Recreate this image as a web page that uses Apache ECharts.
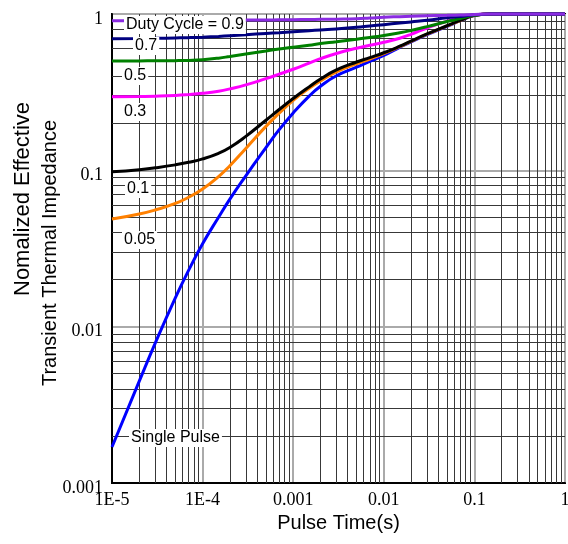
<!DOCTYPE html>
<html>
<head>
<meta charset="utf-8">
<script src="https://cdn.jsdelivr.net/npm/echarts@6/dist/echarts.min.js"></script>
<style>html,body{margin:0;padding:0;background:#fff;}#c{width:568px;height:544px;}</style>
</head>
<body>
<div id="c"></div>
<script>
// ---- data ----
const xTickLabels = ['1E-5', '1E-4', '0.001', '0.01', '0.1', '1'];
const yTickLabels = ['0.001', '0.01', '0.1', '1'];

// pulse times (s) at which the curves were read
const pulseTimes = [1e-5, 2e-5, 3e-5, 5e-5, 7e-5, 1e-4, 1.5e-4, 2e-4, 3e-4, 5e-4, 7e-4, 1e-3, 1.5e-3, 2e-3, 3e-3, 5e-3, 7e-3, 1e-2, 1.5e-2, 2e-2, 3e-2, 5e-2, 7e-2, 0.1, 0.15, 0.2, 0.3, 0.5, 0.7, 1];

const singlePulse = [0.0017, 0.00448, 0.00785, 0.0153, 0.0229, 0.0339, 0.0501, 0.0655, 0.0923, 0.1396, 0.182, 0.233, 0.2985, 0.345, 0.403, 0.457, 0.498, 0.543, 0.612, 0.664, 0.738, 0.834, 0.906, 0.978, 1, 1, 1, 1, 1, 1];
const duty005 = [0.0488, 0.0526, 0.0558, 0.0614, 0.0673, 0.076, 0.0912, 0.107, 0.138, 0.191, 0.232, 0.2805, 0.335, 0.3736, 0.427, 0.480, 0.515, 0.558, 0.618, 0.668, 0.743, 0.839, 0.909, 0.979, 1, 1, 1, 1, 1, 1];
const duty01 = [0.098, 0.101, 0.1038, 0.1084, 0.1125, 0.1183, 0.1285, 0.140, 0.165, 0.209, 0.245, 0.288, 0.342, 0.384, 0.4385, 0.493, 0.526, 0.565, 0.622, 0.671, 0.745, 0.841, 0.910, 0.98, 1, 1, 1, 1, 1, 1];
const duty03 = [0.296, 0.297, 0.298, 0.301, 0.305, 0.311, 0.321, 0.332, 0.352, 0.386, 0.412, 0.443, 0.485, 0.518, 0.559, 0.604, 0.631, 0.659, 0.700, 0.741, 0.814, 0.901, 0.951, 0.99, 1, 1, 1, 1, 1, 1];
const duty05 = [0.500, 0.501, 0.502, 0.503, 0.505, 0.510, 0.522, 0.535, 0.555, 0.580, 0.598, 0.613, 0.632, 0.647, 0.665, 0.69, 0.708, 0.728, 0.758, 0.785, 0.83, 0.895, 0.935, 0.98, 1, 1, 1, 1, 1, 1];
const duty07 = [0.695, 0.697, 0.699, 0.703, 0.706, 0.711, 0.719, 0.726, 0.737, 0.751, 0.76, 0.77, 0.782, 0.791, 0.803, 0.822, 0.838, 0.855, 0.875, 0.89, 0.912, 0.945, 0.965, 0.988, 1, 1, 1, 1, 1, 1];
const duty09 = [0.906, 0.907, 0.907, 0.908, 0.909, 0.91, 0.911, 0.912, 0.914, 0.916, 0.918, 0.92, 0.922, 0.924, 0.927, 0.933, 0.942, 0.953, 0.962, 0.968, 0.975, 0.981, 0.986, 0.994, 1, 1, 1, 1, 1, 1];

const curveLabels = ['Duty Cycle = 0.9', '0.7', '0.5', '0.3', '0.1', '0.05', 'Single Pulse'];
const xName = 'Pulse Time(s)';
const yNameLines = ['Nomalized Effective', 'Transient Thermal Impedance'];

// ---- build ----
const X_MIN = 1e-5, X_MAX = 1, Y_MIN = 0.001, Y_MAX = 1;
const xDecades = [-5, -4, -3, -2, -1];
const yDecades = [-3, -2, -1];
const minorLines = [];
xDecades.forEach(d => { for (let k = 2; k <= 9; k++) { const v = k * Math.pow(10, d); minorLines.push({ coords: [[v, Y_MIN], [v, Y_MAX]] }); } });
yDecades.forEach(d => { for (let k = 2; k <= 9; k++) { const v = k * Math.pow(10, d); minorLines.push({ coords: [[X_MIN, v], [X_MAX, v]] }); } });

const curves = [
  { y: singlePulse, color: '#0000ff' },
  { y: duty005, color: '#ff8000' },
  { y: duty01, color: '#000000' },
  { y: duty03, color: '#ff00ff' },
  { y: duty05, color: '#008000' },
  { y: duty07, color: '#000080' },
  { y: duty09, color: '#8a2be2' }
];

const series = [{
  type: 'lines', coordinateSystem: 'cartesian2d', z: 1, silent: true, polyline: false,
  lineStyle: { color: '#383838', width: 1, opacity: 1 },
  data: minorLines
}];
curves.forEach(c => series.push({
  type: 'line', data: pulseTimes.map((t, i) => [t, c.y[i]]), showSymbol: false, symbol: 'none',
  smooth: 0.5, clip: false, z: 3,
  lineStyle: { color: c.color, width: 3 }, silent: true
}));

const labelPos = [[124, 26], [133, 47], [122, 77], [122, 113], [125, 190], [122, 241], [129, 439]];
const graphics = curveLabels.map((t, i) => ({
  type: 'text', left: labelPos[i][0], top: labelPos[i][1] - 10, z: 100,
  style: { text: t, font: '16px "Liberation Sans", Arial, sans-serif', fill: '#000',
    backgroundColor: '#fff', padding: [1, 2, 1, 2] }
}));
// rotated y-axis title, two lines
graphics.push({ type: 'text', x: 23, y: 199, rotation: Math.PI / 2, z: 100,
  style: { text: yNameLines[0], font: '22px "Liberation Sans", Arial, sans-serif', fill: '#000', align: 'center', verticalAlign: 'middle' } });
graphics.push({ type: 'text', x: 50, y: 253, rotation: Math.PI / 2, z: 100,
  style: { text: yNameLines[1], font: '20px "Liberation Sans", Arial, sans-serif', fill: '#000', align: 'center', verticalAlign: 'middle' } });

const chart = echarts.init(document.getElementById('c'), null, { renderer: 'canvas' });
chart.setOption({
  animation: false,
  backgroundColor: '#fff',
  grid: { left: 112, right: 3, top: 14, bottom: 61, outerBoundsMode: 'none', containLabel: false,
    show: true, borderColor: '#000', borderWidth: 2, backgroundColor: 'transparent' },
  xAxis: {
    type: 'log', logBase: 10, min: X_MIN, max: X_MAX,
    name: xName, nameLocation: 'middle', nameGap: 27,
    nameTextStyle: { fontFamily: '"Liberation Sans", Arial, sans-serif', fontSize: 20, color: '#000' },
    axisLine: { show: true, lineStyle: { color: '#000', width: 2 } },
    axisTick: { show: false },
    axisLabel: { margin: 8, color: '#000', fontFamily: '"Liberation Serif", serif', fontSize: 18,
      formatter: v => xTickLabels[Math.round(Math.log10(v)) + 5] },
    splitLine: { show: true, lineStyle: { color: '#aaaaaa', width: 2 } }
  },
  yAxis: {
    type: 'log', logBase: 10, min: Y_MIN, max: Y_MAX,
    axisLine: { show: true, lineStyle: { color: '#000', width: 2 } },
    axisTick: { show: false },
    axisLabel: { margin: 9, color: '#000', fontFamily: '"Liberation Serif", serif', fontSize: 18,
      verticalAlign: 'top', lineHeight: 10,
      formatter: v => yTickLabels[Math.round(Math.log10(v)) + 3] },
    splitLine: { show: true, lineStyle: { color: '#aaaaaa', width: 2 } }
  },
  graphic: graphics,
  series: series
});
</script>
</body>
</html>
